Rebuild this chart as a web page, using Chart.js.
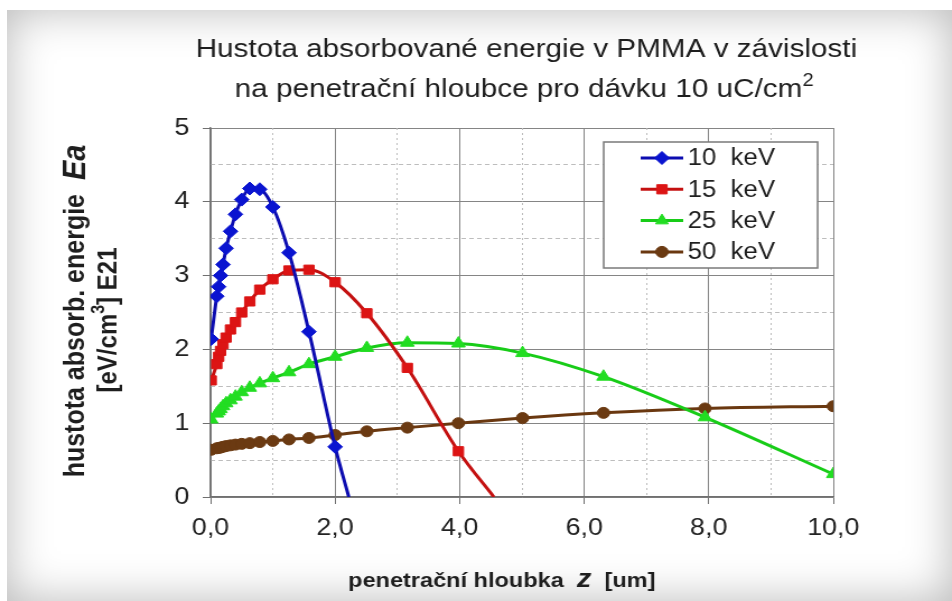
<!DOCTYPE html>
<html lang="cs">
<head>
  <meta charset="UTF-8">
  <title>Hustota absorbované energie v PMMA</title>
  <script src="https://cdn.jsdelivr.net/npm/chart.js@4.4.1/dist/chart.umd.min.js"></script>
  <style>
    html, body { margin: 0; padding: 0; background: #fff; }
    .frame {
      position: absolute; left: 7px; top: 10px; width: 945px; height: 591px;
      background: #fff;
      box-shadow: inset 0 0 45px rgba(0, 0, 0, 0.28);
    }
    #chart { position: absolute; left: 0; top: 0; }
  </style>
</head>
<body>
  <div class="frame"></div>
  <!-- laid out 850 wide and shown slightly stretched -->
  <canvas id="chart" width="850" height="601" style="width: 952px; height: 601px;"></canvas>

  <script>
    // penetration depth z [um] and absorbed energy density Ea [eV/cm3] x E21
    const z10  = [0.01, 0.1, 0.13, 0.16, 0.2, 0.25, 0.32, 0.4, 0.5, 0.63, 0.79, 1.0, 1.26, 1.58, 2.0, 2.22];
    const ea10 = [2.14, 2.72, 2.85, 3.0, 3.15, 3.37, 3.6, 3.83, 4.03, 4.18, 4.17, 3.93, 3.31, 2.24, 0.68, 0];

    const z15  = [0.01, 0.1, 0.13, 0.16, 0.2, 0.25, 0.32, 0.4, 0.5, 0.63, 0.79, 1.0, 1.26, 1.58, 2.0, 2.51, 3.16, 3.98, 4.55];
    const ea15 = [1.58, 1.8, 1.9, 1.98, 2.07, 2.16, 2.27, 2.37, 2.5, 2.65, 2.81, 2.95, 3.07, 3.08, 2.91, 2.49, 1.75, 0.62, 0];

    const z25  = [0.01, 0.1, 0.13, 0.16, 0.2, 0.25, 0.32, 0.4, 0.5, 0.63, 0.79, 1.0, 1.26, 1.58, 2.0, 2.51, 3.16, 3.98, 5.01, 6.31, 7.94, 10.0];
    const ea25 = [1.05, 1.13, 1.16, 1.19, 1.23, 1.27, 1.31, 1.36, 1.42, 1.48, 1.54, 1.61, 1.69, 1.8, 1.9, 2.02, 2.09, 2.08, 1.95, 1.63, 1.08, 0.31];

    const z50  = [0.01, 0.1, 0.13, 0.16, 0.2, 0.25, 0.32, 0.4, 0.5, 0.63, 0.79, 1.0, 1.26, 1.58, 2.0, 2.51, 3.16, 3.98, 5.01, 6.31, 7.94, 10.0];
    const ea50 = [0.64, 0.66, 0.665, 0.67, 0.68, 0.69, 0.7, 0.71, 0.72, 0.73, 0.745, 0.76, 0.78, 0.8, 0.84, 0.89, 0.94, 1.0, 1.07, 1.14, 1.2, 1.23];

    const seriesNames = ['10  keV', '15  keV', '25  keV', '50  keV'];
    const xTicks = [0, 2, 4, 6, 8, 10];
    const yTicks = [0, 1, 2, 3, 4, 5];

    const FONT = '"Liberation Sans", Arial, sans-serif';

    function toPoints(xs, ys) {
      return xs.map((x, i) => ({ x: x, y: ys[i] }));
    }

    function series(label, xs, ys, color, fill, style, radius) {
      return {
        label: label,
        data: toPoints(xs, ys),
        borderColor: color,
        backgroundColor: fill,
        borderWidth: 3,
        pointStyle: style,
        // the line runs out to the axis, no marker on the closing point
        pointRadius: ctx => (ctx.raw && ctx.raw.y === 0 ? 0 : radius),
        pointBorderColor: fill,
        pointBackgroundColor: fill,
        pointBorderWidth: 1,
        cubicInterpolationMode: 'monotone'
      };
    }

    const datasets = [
      series(seriesNames[0], z10, ea10, '#0c0cb0', '#0a14d0', 'rectRot', 6.5),
      series(seriesNames[1], z15, ea15, '#c41010', '#dc1414', 'rect', 6.5),
      series(seriesNames[2], z25, ea25, '#18cc18', '#22dd22', 'triangle', 7),
      series(seriesNames[3], z50, ea50, '#6a3810', '#6b3a12', 'circle', 5.5)
    ];

    // draws text made of runs with different fonts, centred on cx
    function drawRuns(ctx, runs, cx, baseline) {
      let total = 0;
      runs.forEach(r => { ctx.font = r.font; r.w = ctx.measureText(r.t).width; total += r.w; });
      let x = cx - total / 2;
      runs.forEach(r => {
        ctx.font = r.font;
        ctx.fillText(r.t, x, baseline + (r.dy || 0));
        x += r.w;
      });
    }

    const labelsPlugin = {
      id: 'labels',
      afterDraw(chart) {
        const ctx = chart.ctx;
        ctx.save();
        ctx.fillStyle = '#1e1e1e';
        ctx.textAlign = 'left';
        ctx.textBaseline = 'alphabetic';

        // title
        drawRuns(ctx, [{ t: 'Hustota absorbované energie v PMMA v závislosti', font: '26.5px ' + FONT }], 470, 57);
        drawRuns(ctx, [
          { t: 'na penetrační hloubce pro dávku 10 uC/cm', font: '26.5px ' + FONT },
          { t: '2', font: '18px ' + FONT, dy: -11 }
        ], 468, 97);

        // x axis title
        drawRuns(ctx, [
          { t: 'penetrační hloubka  ', font: 'bold 21px ' + FONT },
          { t: 'z', font: 'italic bold 26px ' + FONT },
          { t: '  [um]', font: 'bold 21px ' + FONT }
        ], 448, 587);

        // y axis title, two rotated lines
        ctx.textBaseline = 'middle';
        ctx.save();
        ctx.translate(68, 311);
        ctx.rotate(-Math.PI / 2);
        drawRuns(ctx, [
          { t: 'hustota absorb. energie  ', font: 'bold 25px ' + FONT },
          { t: 'Ea', font: 'italic bold 29px ' + FONT }
        ], 0, 0);
        ctx.restore();
        ctx.save();
        ctx.translate(97, 320);
        ctx.rotate(-Math.PI / 2);
        drawRuns(ctx, [
          { t: '[eV/cm', font: 'bold 24px ' + FONT },
          { t: '3', font: 'bold 16px ' + FONT, dy: -8 },
          { t: '] E21', font: 'bold 24px ' + FONT }
        ], 0, 0);
        ctx.restore();
        ctx.restore();
      },
      afterDatasetsDraw(chart) {
        // legend box inside the plot area
        const ctx = chart.ctx;
        const area = chart.chartArea;
        const left = area.right - 205, top = area.top + 14, w = 191, h = 126;
        ctx.save();
        ctx.fillStyle = '#fff';
        ctx.fillRect(left, top, w, h);
        ctx.strokeStyle = '#7a7a7a';
        ctx.lineWidth = 1.5;
        ctx.strokeRect(left, top, w, h);
        chart.data.datasets.forEach((ds, i) => {
          const y = top + 16 + i * 31.3;
          ctx.strokeStyle = ds.borderColor;
          ctx.lineWidth = 3;
          ctx.beginPath();
          ctx.moveTo(left + 33, y);
          ctx.lineTo(left + 71, y);
          ctx.stroke();
          ctx.fillStyle = ds.pointBackgroundColor;
          ctx.strokeStyle = ds.pointBorderColor;
          ctx.lineWidth = 1;
          const r = ds.pointStyle === 'circle' ? 5.5 : 6.5;
          Chart.helpers.drawPoint(ctx, { pointStyle: ds.pointStyle, rotation: 0, radius: r, borderWidth: 1 }, left + 52, y);
          ctx.fillStyle = '#1e1e1e';
          ctx.font = '23px ' + FONT;
          ctx.textBaseline = 'middle';
          ctx.fillText(ds.label, left + 75, y + 1);
        });
        ctx.restore();
      }
    };

    // extra axes that only draw the dotted / dashed minor grid
    const minorGrid = (ticks, step, dash) => ({
      type: 'linear',
      display: true,
      min: ticks[0],
      max: ticks[ticks.length - 1],
      ticks: { display: false, stepSize: step },
      grid: {
        drawTicks: false,
        color: ctx => (Math.abs(ctx.tick.value % (step * 2)) < 1e-9 ? 'rgba(0,0,0,0)' : '#bdbdbd'),
        lineWidth: 1
      },
      border: { display: false, dash: dash },
      afterFit: s => { if (s.isHorizontal()) s.height = 0; else s.width = 0; }
    });

    new Chart(document.getElementById('chart'), {
      type: 'line',
      data: { datasets: datasets },
      plugins: [labelsPlugin],
      options: {
        responsive: false,
        animation: false,
        devicePixelRatio: 1,
        layout: { padding: { top: 128, right: 106, left: 0, bottom: 0 } },
        plugins: {
          legend: { display: false },
          tooltip: { enabled: false }
        },
        scales: {
          x: {
            type: 'linear',
            position: 'bottom',
            min: xTicks[0],
            max: xTicks[xTicks.length - 1],
            afterBuildTicks: s => { s.ticks = xTicks.map(v => ({ value: v })); },
            ticks: {
              callback: v => v.toFixed(1).replace('.', ','),
              font: { family: FONT, size: 24 },
              color: '#222',
              padding: 10,
              maxRotation: 0
            },
            grid: { color: '#858585', lineWidth: 1, tickLength: 7, tickColor: '#707070' },
            border: { color: '#707070', width: 1.5 },
            afterFit: s => { s.height = 104; }
          },
          y: {
            type: 'linear',
            position: 'left',
            min: yTicks[0],
            max: yTicks[yTicks.length - 1],
            afterBuildTicks: s => { s.ticks = yTicks.map(v => ({ value: v })); },
            ticks: {
              font: { family: FONT, size: 24 },
              color: '#222',
              padding: 12
            },
            grid: { color: '#858585', lineWidth: 1, tickLength: 7, tickColor: '#707070' },
            border: { color: '#707070', width: 1.5 },
            afterFit: s => { s.width = 188; }
          },
          xMinor: minorGrid(xTicks, 1, [2, 3]),
          yMinor: minorGrid(yTicks, 0.5, [4, 3])
        }
      }
    });
  </script>
</body>
</html>
